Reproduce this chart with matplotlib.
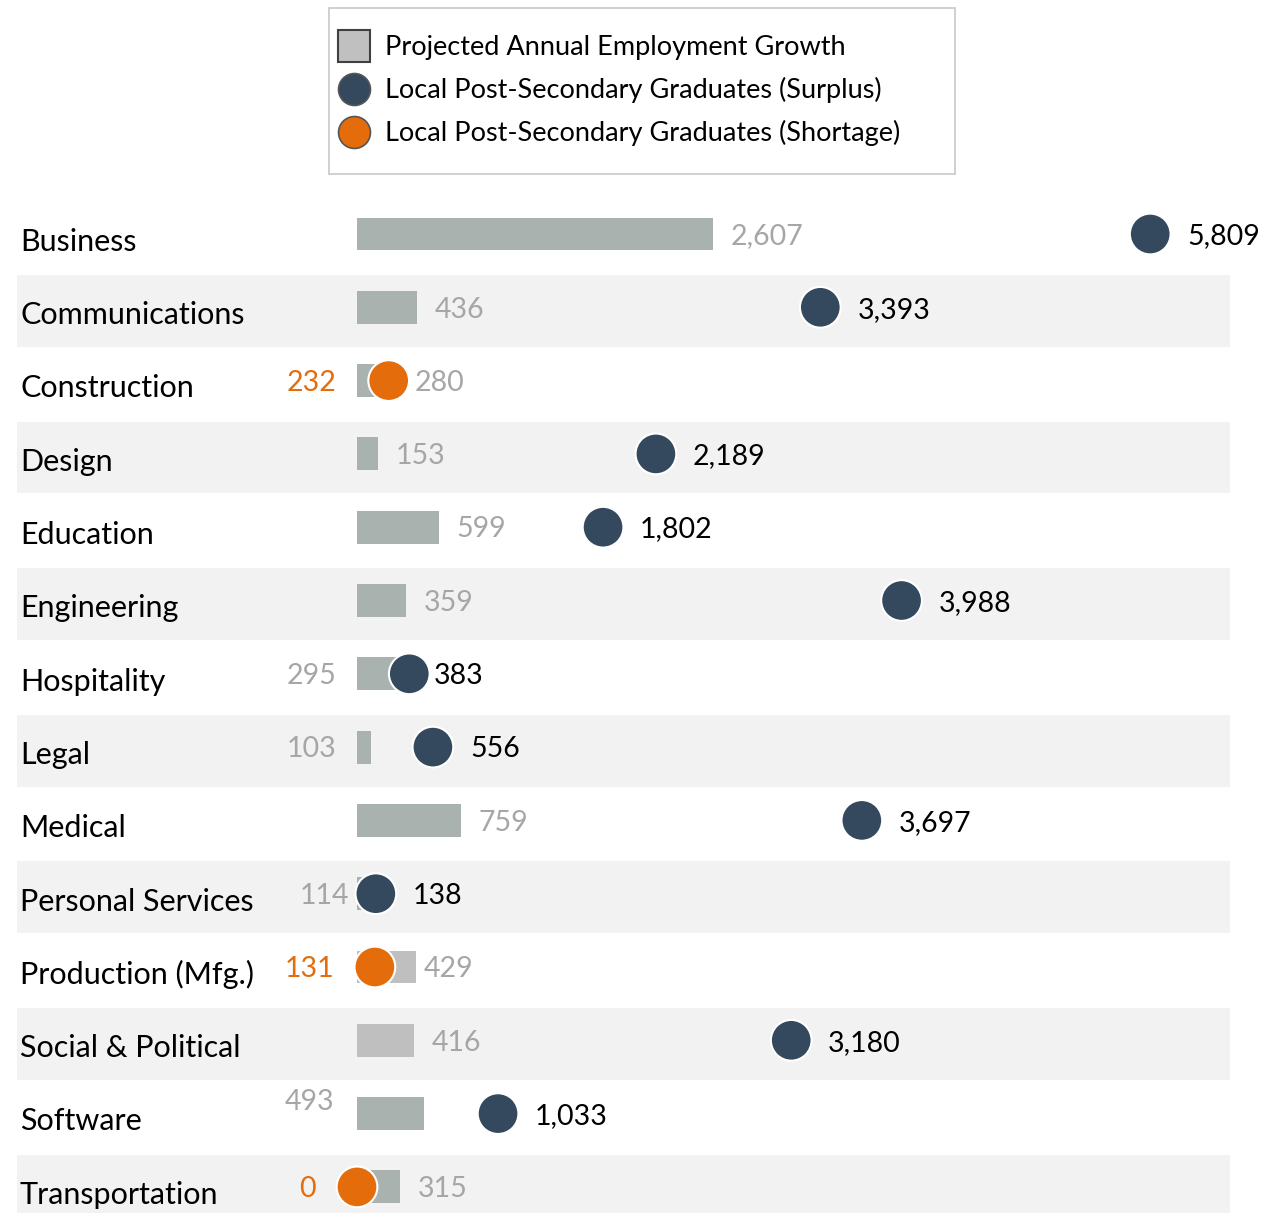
import matplotlib
matplotlib.use("Agg")
import matplotlib.pyplot as plt
from matplotlib.lines import Line2D
from matplotlib.patches import Rectangle

# ---- data ----
categories = ["Business", "Communications", "Construction", "Design", "Education",
              "Engineering", "Hospitality", "Legal", "Medical", "Personal Services",
              "Production (Mfg.)", "Social & Political", "Software", "Transportation"]
employment_growth = [2607, 436, 280, 153, 599, 359, 295, 103, 759, 114, 429, 416, 493, 315]
graduates = [5809, 3393, 232, 2189, 1802, 3988, 383, 556, 3697, 138, 131, 3180, 1033, 0]
legend_labels = ["Projected Annual Employment Growth",
                 "Local Post-Secondary Graduates (Surplus)",
                 "Local Post-Secondary Graduates (Shortage)"]

# ---- style ----
FONT = "Lato"
BAR_COLOR = "#aab2b0"
BAR_COLOR_ALT = "#bfbfbf"
alt_bar_rows = {"Production (Mfg.)", "Social & Political"}
NAVY = "#34495e"
ORANGE = "#e46c0a"
GRAY_TXT = "#a6a6a6"
BAND = "#f2f2f2"

W, H = 1274, 1213
fig = plt.figure(figsize=(W / 100, H / 100), dpi=100)
ax = fig.add_axes([0, 0, 1, 1])
ax.axis("off")

# pixel geometry -> data mapping
X0_PX = 357.0          # value 0
PX_PER_UNIT = 0.13655
ROW0_PX = 234.0
ROW_PX = 73.3
ax.set_xlim(-X0_PX / PX_PER_UNIT, (W - X0_PX) / PX_PER_UNIT)
ax.set_ylim((H - ROW0_PX) / ROW_PX, -ROW0_PX / ROW_PX)

def px(dx):
    return dx / PX_PER_UNIT

n = len(categories)
# alternating bands
for i in range(n):
    if i % 2 == 1:
        ax.fill_between([px(17 - X0_PX), px(1230 - X0_PX)], i - 0.44, i + 0.54,
                        color=BAND, lw=0, zorder=0)

# bars
ys = list(range(n))
colors = [BAR_COLOR_ALT if c in alt_bar_rows else BAR_COLOR for c in categories]
ax.barh(ys, employment_growth, height=0.45, color=colors, zorder=2)

# dots
shortage = [g < e for g, e in zip(graduates, employment_growth)]
dot_colors = [ORANGE if s else NAVY for s in shortage]
ax.scatter(graduates, ys, s=860, c=dot_colors, edgecolors="white", linewidths=1.5, zorder=3)

# category labels
for i, c in enumerate(categories):
    ax.text(px(20 - X0_PX), i + 0.23, c, fontsize=22, family=FONT, color="black",
            ha="left", va="baseline")

# label placement overrides (pixel offsets)
gray_left = {"Hospitality": 336, "Legal": 336, "Personal Services": 349, "Software": 334}
gray_special = {"Construction": 415, "Production (Mfg.)": 424}
dot_special = {"Hospitality": 434}
NUM_FS = 20.5
NUM_DY = 0.14
for i, c in enumerate(categories):
    e, g = employment_growth[i], graduates[i]
    # growth label
    if c in gray_left:
        yy = i + NUM_DY if c != "Software" else i - 0.05
        ax.text(px(gray_left[c] - X0_PX), yy, f"{e:,}", fontsize=NUM_FS, family=FONT,
                color=GRAY_TXT, ha="right", va="baseline")
    else:
        xx = px(gray_special[c] - X0_PX) if c in gray_special else e + px(18)
        ax.text(xx, i + NUM_DY, f"{e:,}", fontsize=NUM_FS, family=FONT,
                color=GRAY_TXT, ha="left", va="baseline")
    # graduates label
    if shortage[i]:
        right_px = {"Construction": 337, "Production (Mfg.)": 334, "Transportation": 316}[c]
        ax.text(px(right_px - X0_PX), i + NUM_DY, f"{g:,}", fontsize=NUM_FS, family=FONT,
                color=ORANGE, ha="right", va="baseline")
    else:
        xx = px(dot_special[c] - X0_PX) if c in dot_special else g + px(37)
        ax.text(xx, i + NUM_DY, f"{g:,}", fontsize=NUM_FS, family=FONT,
                color="black", ha="left", va="baseline")

# legend
handles = [
    Line2D([], [], ls="none", marker="s", markersize=23, mfc="#c0c0c0", mec="#404040", mew=1.5),
    Line2D([], [], ls="none", marker="o", markersize=23, mfc=NAVY, mec="#555555", mew=1.2),
    Line2D([], [], ls="none", marker="o", markersize=23, mfc=ORANGE, mec="#555555", mew=1.2),
]
leg = fig.legend(handles, legend_labels, loc="upper left", bbox_to_anchor=(328 / W, 1 - 14 / H),
                 frameon=False,
                 prop={"family": FONT, "size": 19.5}, handlelength=0.37, handletextpad=0.96,
                 labelspacing=0.625, borderpad=0.78, borderaxespad=0)
# legend frame box
fig.patches.append(Rectangle((329 / W, 1 - 174 / H), (955 - 329) / W, (174 - 8) / H,
                             transform=fig.transFigure, fill=False, edgecolor="#c8c8c8",
                             linewidth=1.2, zorder=5))

fig.savefig("out.png", dpi=100)
